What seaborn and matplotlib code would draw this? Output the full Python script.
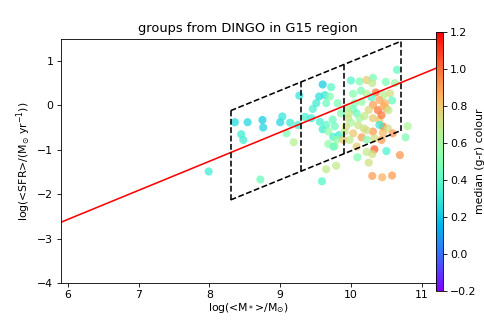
import numpy as np
import pandas as pd
import matplotlib
matplotlib.use("Agg")
import matplotlib.pyplot as plt
import seaborn as sns

# ==================== DATA ====================
log_mstar = [7.99, 8.36, 8.54, 8.75, 8.76, 8.45, 8.48, 8.72, 9.00, 9.03,
             9.14, 9.09, 9.19, 9.27, 9.25, 9.35, 9.44, 9.46, 9.51, 9.55,
             9.60, 9.63, 9.72, 9.70, 9.65, 9.56, 9.60, 9.65, 9.74, 9.77,
             9.81, 9.68, 9.75, 9.83, 9.68, 9.77, 9.80, 9.65, 9.79, 9.59,
             9.86, 10.00, 10.12, 10.22, 10.31, 10.30, 10.49, 10.62, 10.65, 10.03,
             10.14, 10.22, 10.35, 10.29, 10.46, 10.55, 10.58, 10.05, 10.15, 10.31,
             10.38, 10.46, 10.48, 10.50, 10.53, 10.03, 10.08, 9.96, 10.00, 10.12,
             10.19, 10.31, 10.40, 10.43, 10.45, 10.40, 10.52, 10.31, 10.22, 10.03,
             10.15, 9.98, 10.08, 10.22, 10.33, 10.43, 10.59, 10.80, 10.77, 10.69,
             10.50, 10.33, 10.30, 10.22, 10.09, 10.25, 10.30, 10.44, 10.58, 9.91,
             9.93, 9.97, 9.89, 9.75, 10.40, 10.10, 10.25, 10.45, 9.95, 10.18]
log_sfr = [-1.49, -0.38, -0.38, -0.33, -0.50, -0.65, -0.78, -1.67, -0.38, -0.25,
           -0.39, -0.63, -0.83, 0.22, -0.44, -0.26, -0.29, -0.08, 0.05, 0.20,
           0.47, 0.23, 0.41, 0.20, 0.05, -0.37, -0.54, -0.44, -0.32, -0.47,
           0.05, -0.59, -0.71, -0.67, -0.87, -0.92, -0.77, -1.44, -1.36, -1.71,
           -0.18, 0.56, 0.54, 0.57, 0.62, 0.50, 0.53, 0.50, 0.80, 0.26,
           0.33, 0.26, 0.29, 0.18, 0.23, 0.27, 0.11, 0.05, 0.08, 0.01,
           -0.11, -0.02, 0.05, -0.07, -0.11, -0.09, -0.18, -0.29, -0.39, -0.29,
           -0.24, -0.29, -0.33, -0.22, -0.48, -0.44, -0.52, -0.59, -0.56, -0.63,
           -0.72, -0.78, -0.93, -0.77, -0.74, -0.78, -0.63, -0.47, -0.72, -1.12,
           -1.03, -0.99, -1.10, -1.05, -1.17, -1.29, -1.59, -1.62, -1.58, -0.59,
           -0.48, -0.18, -0.78, -0.93, 0.12, -0.45, -0.10, -0.62, -0.05, -0.52]
gr_colour = [0.33, 0.25, 0.25, 0.22, 0.24, 0.33, 0.33, 0.45, 0.25, 0.30,
             0.33, 0.50, 0.65, 0.30, 0.35, 0.35, 0.33, 0.35, 0.33, 0.28,
             0.22, 0.30, 0.40, 0.50, 0.45, 0.35, 0.33, 0.40, 0.45, 0.45,
             0.50, 0.55, 0.35, 0.33, 0.55, 0.65, 0.55, 0.68, 0.68, 0.38,
             0.50, 0.38, 0.50, 0.78, 0.48, 0.68, 0.50, 0.58, 0.42, 0.52,
             0.48, 0.65, 0.98, 0.38, 0.65, 0.72, 0.42, 0.52, 0.55, 0.90,
             0.98, 0.88, 0.85, 0.85, 0.68, 0.45, 0.45, 0.72, 0.62, 0.58,
             0.68, 0.78, 0.80, 0.98, 0.98, 0.32, 0.72, 0.90, 0.72, 0.80,
             0.90, 0.68, 0.78, 0.52, 0.72, 0.90, 0.90, 0.62, 0.50, 0.92,
             0.36, 1.02, 0.72, 0.68, 0.50, 0.72, 0.90, 0.85, 0.90, 0.68,
             0.72, 0.68, 0.78, 0.42, 0.88, 0.70, 0.75, 0.82, 0.62, 0.72]

# main-sequence fit and selection box
MS_SLOPE, MS_INTERCEPT = 0.655, -6.50
BOX_SLOPE = 0.65
BOX_TOP, BOX_BOTTOM = -5.515, -7.525
BOX_EDGES = [8.3, 9.3, 9.9, 10.7]

XLIM = (5.9, 11.2)
YLIM = (-4, 1.5)
CLIM = (-0.2, 1.2)

df = pd.DataFrame({"mstar": log_mstar, "sfr": log_sfr, "gr": gr_colour})

# ==================== PLOT ====================
plt.rcParams["font.size"] = 10.3
fig = plt.figure(figsize=(6.4, 4.2625), dpi=75.78)
ax = fig.add_axes([0.125, 0.124, 0.774, 0.756])
cax = fig.add_axes([0.900, 0.099, 0.0124, 0.801])

sns.scatterplot(data=df, x="mstar", y="sfr", hue="gr", palette="rainbow",
                hue_norm=CLIM, s=60, alpha=0.75, linewidth=0, legend=False, ax=ax)

# red main-sequence line
xl = np.array(XLIM)
ax.plot(xl, MS_SLOPE * xl + MS_INTERCEPT, color="red", lw=1.5)

# dashed boxes
xb = np.array([BOX_EDGES[0], BOX_EDGES[-1]])
ax.plot(xb, BOX_SLOPE * xb + BOX_TOP, "k--", lw=1.5)
ax.plot(xb, BOX_SLOPE * xb + BOX_BOTTOM, "k--", lw=1.5)
for e in BOX_EDGES:
    ax.plot([e, e], [BOX_SLOPE * e + BOX_BOTTOM, BOX_SLOPE * e + BOX_TOP], "k--", lw=1.5)

ax.set_xlim(*XLIM)
ax.set_ylim(*YLIM)
ax.set_xticks([6, 7, 8, 9, 10, 11])
ax.set_yticks([-4, -3, -2, -1, 0, 1])
ax.set_xlabel(r"log(<M$_*$>/M$_{\odot}$)", labelpad=1)
ax.set_ylabel(r"log(<SFR>/(M$_{\odot}$ yr$^{-1}$))")
ax.set_title("groups from DINGO in G15 region")

sm = plt.cm.ScalarMappable(cmap="rainbow", norm=plt.Normalize(*CLIM))
cb = fig.colorbar(sm, cax=cax)
cb.set_label("median (g-r) colour", labelpad=-1)

fig.savefig("out.png", dpi=75.78)
